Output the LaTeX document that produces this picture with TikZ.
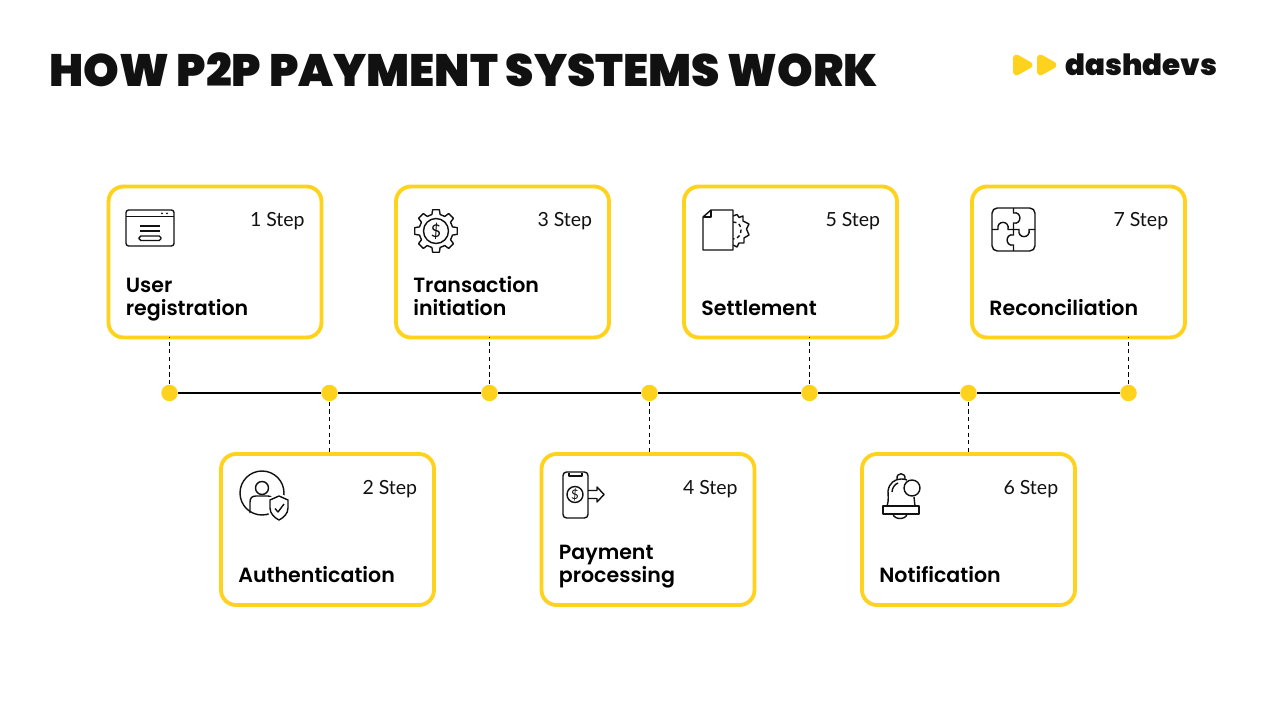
\documentclass[tikz,border=0pt]{standalone}
\usepackage{fontspec}
\setmainfont{Lato}
\newfontfamily\titlefont{Poppins Black}
\newfontfamily\boldfont{Poppins SemiBold}
\usetikzlibrary{positioning}
\definecolor{dashyellow}{HTML}{FFD21E}
\definecolor{inkblack}{HTML}{111111}

\begin{document}
\begin{tikzpicture}[x=0.02cm,y=-0.02cm]
      \tikzset { card/.style = { draw=dashyellow,line width=2.2pt,rounded corners=8.5pt,minimum width=4.26cm,minimum height=3.02cm,inner sep=0pt,outer sep=0pt } }
      \tikzset { dot/.style = { circle,fill=dashyellow,minimum size=0.33cm,inner sep=0pt } }
      \tikzset { steplabel/.style = { anchor=base east,inner sep=0pt,text=inkblack,font=\fontsize{11.1}{13}\selectfont } }
      \tikzset { cardtitle/.style = { anchor=south west,inner sep=0pt,align=left,text=black,font=\boldfont\fontsize{11.7}{13}\selectfont,execute at end node=\strut } }
      \tikzset { iconline/.style = { draw=inkblack,line width=0.8pt,line join=round } }
      \tikzset { dashline/.style = { draw=black,line width=1.05pt,dash pattern=on 2.4pt off 2pt } }
      \tikzset { logotri/.style = { fill=dashyellow,draw=dashyellow,line width=2.2pt,line join=round,rounded corners=1.5pt } }

      \useasboundingbox (0,0) rectangle (1280,719);
      \fill[white] (0,0) rectangle (1280,719);

      % heading
      \node[anchor=base west,inner sep=0pt,text=inkblack,font=\titlefont\fontsize{25.8}{30}\selectfont] (title) at (49,87) {HOW P2P PAYMENT SYSTEMS WORK};
      \coordinate (logoa) at (1015,55.5);
      \coordinate (logob) at (1039,55.5);
      \filldraw[logotri] (logoa) -- ++(17,9.5) -- ++(-17,9.5) -- cycle;
      \filldraw[logotri] (logob) -- ++(17,9.5) -- ++(-17,9.5) -- cycle;
      \node[anchor=base west,inner sep=0pt,text=inkblack,font=\titlefont\fontsize{16.7}{20}\selectfont] (logo) at (1065,76) {dashdevs};

      % cards
      \node[card] (c1) at (215,262) {};
      \node[card] (c2) at (327.5,529.5) {};
      \node[card] (c3) at (502.5,262) {};
      \node[card] (c4) at (648,529.5) {};
      \node[card] (c5) at (790.5,262) {};
      \node[card] (c6) at (968.5,529.5) {};
      \node[card] (c7) at (1078.5,262) {};

      % timeline
      \node[dot] (d1) at (169.5,393) {};
      \node[dot] (d2) at (329.5,393) {};
      \node[dot] (d3) at (489.5,393) {};
      \node[dot] (d4) at (649.5,393) {};
      \node[dot] (d5) at (809.5,393) {};
      \node[dot] (d6) at (968.5,393) {};
      \node[dot] (d7) at (1128.5,393) {};

      \draw[line width=0.9pt,black] (d1) -- (d2) -- (d3) -- (d4) -- (d5) -- (d6) -- (d7);

      \draw[dashline] (d1) -- (d1 |- c1.south);
      \draw[dashline] (d2) -- (d2 |- c2.north);
      \draw[dashline] (d3) -- (d3 |- c3.south);
      \draw[dashline] (d4) -- (d4 |- c4.north);
      \draw[dashline] (d5) -- (d5 |- c5.south);
      \draw[dashline] (d6) -- (d6 |- c6.north);
      \draw[dashline] (d7) -- (d7 |- c7.south);

      % step labels
      \node[steplabel] (s1) at ([shift={(-16.5,40)}]c1.north east) {1 Step};
      \node[steplabel] (s2) at ([shift={(-16.5,40)}]c2.north east) {2 Step};
      \node[steplabel] (s3) at ([shift={(-16.5,40)}]c3.north east) {3 Step};
      \node[steplabel] (s4) at ([shift={(-16.5,40)}]c4.north east) {4 Step};
      \node[steplabel] (s5) at ([shift={(-16.5,40)}]c5.north east) {5 Step};
      \node[steplabel] (s6) at ([shift={(-16.5,40)}]c6.north east) {6 Step};
      \node[steplabel] (s7) at ([shift={(-16.5,40)}]c7.north east) {7 Step};

      % card titles
      \node[cardtitle] (t1) at ([shift={(17,-15)}]c1.south west) {User\\registration};
      \node[cardtitle] (t2) at ([shift={(17,-15)}]c2.south west) {Authentication};
      \node[cardtitle] (t3) at ([shift={(17,-15)}]c3.south west) {Transaction\\initiation};
      \node[cardtitle] (t4) at ([shift={(17,-15)}]c4.south west) {Payment\\processing};
      \node[cardtitle] (t5) at ([shift={(17,-15)}]c5.south west) {Settlement};
      \node[cardtitle] (t6) at ([shift={(17,-15)}]c6.south west) {Notification};
      \node[cardtitle] (t7) at ([shift={(17,-15)}]c7.south west) {Reconciliation};

      % window icon
      \draw[iconline,rounded corners=1.5pt] (126,210) rectangle (174,246);
      \draw[iconline] (126,216.5) -- (174,216.5);
      \fill[inkblack] (162,213.3) circle (1) (167,213.3) circle (1);
      \draw[iconline] (140,226) -- (160,226) (140,231) -- (160,231);
      \draw[iconline,rounded corners=1pt] (139,236) rectangle (161,240.5);

      % gear icon
      \draw[iconline,shift={(436,231)}] (-14:17) \foreach \a in {0,45,...,315} { -- ({\a-14}:17) -- ({\a-9}:21.5) -- ({\a+9}:21.5) -- ({\a+14}:17) } -- cycle;
      \draw[iconline] (436,231) circle (12.5);
      \node[inner sep=0pt,text=inkblack,font=\fontsize{10}{12}\selectfont] (gearsign) at (436,231) {\$};

      % document icon
      \draw[iconline] (733,216) -- (737,214.5) -- (739,217.5) -- (743,216) -- (743,221) -- (749,224) -- (746.5,229) -- (749,235) -- (744,238) -- (744,243) -- (739,243) -- (737,247) -- (733,245);
      \draw[iconline,dash pattern=on 2pt off 1.5pt] (733,222) .. controls (739,222) and (741,226) .. (741,230) .. controls (741,235) and (738,239) .. (733,239);
      \draw[iconline,fill=white] (711,210) -- (733,210) -- (733,250) -- (703,250) -- (703,217) -- cycle;
      \draw[iconline] (703,217) -- (711,217) -- (711,210);

      % puzzle icon
      \draw[iconline,rounded corners=3pt] (992,208) rectangle (1035,251);
      \draw[iconline] (1013.5,208) -- (1013.5,213) .. controls (1022,211) and (1022,225) .. (1013.5,223) -- (1013.5,230)
        -- (1013.5,235) .. controls (1005,233) and (1005,247) .. (1013.5,245) -- (1013.5,251);
      \draw[iconline] (992,229.5) -- (998,229.5) .. controls (996,220) and (1010,220) .. (1008,229.5) -- (1019,229.5)
        .. controls (1017,239) and (1031,239) .. (1029,229.5) -- (1035,229.5);

      % user icon
      \draw[iconline] (262,493) circle (22);
      \draw[iconline] (262,488) circle (6.5);
      \draw[iconline] (250,513) -- (250,502) .. controls (250,498) and (252,496) .. (256,496) -- (268,496) .. controls (271,496) and (272,497) .. (273,499);
      \draw[white,line width=3pt] (279,496) -- (288,500) -- (288,508) .. controls (288,514) and (283,518) .. (279,520) .. controls (275,518) and (270,514) .. (270,508) -- (270,500) -- cycle;
      \draw[iconline,fill=white] (279,496) -- (288,500) -- (288,508) .. controls (288,514) and (283,518) .. (279,520) .. controls (275,518) and (270,514) .. (270,508) -- (270,500) -- cycle;
      \draw[iconline] (275,508.5) -- (278,512) -- (284,504);

      % phone icon
      \draw[iconline,rounded corners=2pt] (563,472) rectangle (588,518);
      \draw[iconline] (569,472.5) -- (569,476) -- (582,476) -- (582,472.5);
      \draw[iconline] (575,494.5) circle (8);
      \node[inner sep=0pt,text=inkblack,font=\fontsize{7.5}{9}\selectfont] (coinsign) at (575,494.5) {\$};
      \draw[iconline] (588,490.5) -- (597,490.5) -- (597,487) -- (604,494.5) -- (597,502) -- (597,498.5) -- (588,498.5);

      % bell icon
      \draw[iconline] (897,479) .. controls (896,472) and (906,472) .. (905,479);
      \draw[iconline] (887,506.5) .. controls (889,500) and (888,495) .. (888,491) .. controls (889,483) and (895,479) .. (901,479) .. controls (903,479) and (905,479) .. (907,480);
      \draw[iconline] (915,506.5) -- (914,497);
      \draw[iconline] (892,492) .. controls (892,488) and (895,484) .. (898,483);
      \draw[iconline] (883,506) rectangle (919,514);
      \draw[iconline] (893,514) .. controls (894,520) and (906,520) .. (907,514);
      \draw[iconline] (912,488) circle (8);
    \end{tikzpicture}
\end{document}
